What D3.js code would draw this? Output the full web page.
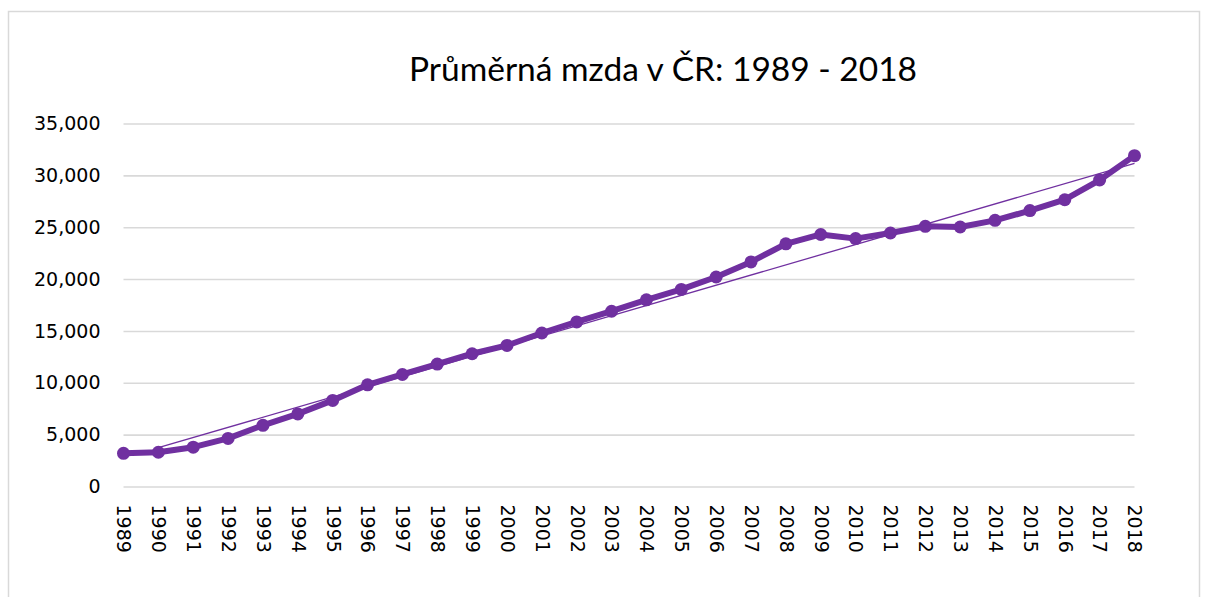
<!DOCTYPE html>
<html>
<head>
<meta charset="utf-8">
<script src="https://cdn.jsdelivr.net/npm/d3@7"></script>
<style>
	body { margin: 0; background: #fff; }
	#chart-area { width: 1208px; height: 597px; }
</style>
</head>
<body>
<div id="chart-area"></div>
<script>
const years = [1989, 1990, 1991, 1992, 1993, 1994, 1995, 1996, 1997, 1998,
	1999, 2000, 2001, 2002, 2003, 2004, 2005, 2006, 2007, 2008,
	2009, 2010, 2011, 2012, 2013, 2014, 2015, 2016, 2017, 2018];
const wages = [3200, 3300, 3790, 4640, 5900, 7000, 8300, 9800, 10800, 11800,
	12800, 13600, 14800, 15870, 16900, 18000, 19000, 20200, 21650, 23400,
	24300, 23900, 24440, 25090, 25020, 25660, 26600, 27650, 29550, 31900];
const yTicks = [0, 5000, 10000, 15000, 20000, 25000, 30000, 35000];
const titleText = 'Průměrná mzda v ČR: 1989 - 2018';

window.addEventListener('DOMContentLoaded', () => {

	const margin = { top: 123.5, right: 73.5, bottom: 110.5, left: 123.5 };
	const fullWidth = 1208;
	const fullHeight = 597;
	const width = fullWidth - margin.left - margin.right;
	const height = fullHeight - margin.top - margin.bottom;
	const purple = '#7030a0';

	const svg = d3.select('#chart-area')
		.append('svg')
		.attr('width', fullWidth)
		.attr('height', fullHeight);

	// chart frame
	svg.append('rect')
		.attr('x', 8.5)
		.attr('y', 11.5)
		.attr('width', 1191)
		.attr('height', 600)
		.attr('fill', 'none')
		.attr('stroke', '#d9d9d9')
		.attr('stroke-width', 1.5);

	svg.append('text')
		.attr('x', 663)
		.attr('y', 81)
		.attr('text-anchor', 'middle')
		.attr('font-family', 'Lato, "Open Sans", sans-serif')
		.attr('font-size', 33.5)
		.attr('fill', '#000')
		.text(titleText);

	const g = svg.append('g')
		.attr('transform', `translate(${margin.left}, ${margin.top})`);

	// Scales
	const x = d3.scalePoint()
		.domain(years)
		.range([0, width]);

	const y = d3.scaleLinear()
		.domain([0, 35000])
		.range([height, 0]);

	// Y axis with gridlines
	const leftAxis = d3.axisLeft(y)
		.tickValues(yTicks)
		.tickSize(-width)
		.tickPadding(23)
		.tickFormat(d3.format(','));
	const yAxis = g.append('g')
		.attr('class', 'axis-left')
		.call(leftAxis);
	yAxis.select('.domain').remove();
	yAxis.selectAll('.tick line')
		.attr('stroke', '#d9d9d9')
		.attr('stroke-width', 1.6);
	yAxis.selectAll('.tick text')
		.attr('font-family', '"DejaVu Sans", sans-serif')
		.attr('font-size', 19)
		.attr('fill', '#000');

	// X axis, rotated labels
	const bottomAxis = d3.axisBottom(x)
		.tickSize(0)
		.tickPadding(0);
	const xAxis = g.append('g')
		.attr('class', 'axis-bottom')
		.attr('transform', `translate(0, ${height})`)
		.call(bottomAxis);
	xAxis.select('.domain').remove();
	xAxis.selectAll('.tick text')
		.attr('font-family', '"DejaVu Sans", sans-serif')
		.attr('font-size', 19)
		.attr('fill', '#000')
		.attr('text-anchor', 'start')
		.attr('transform', 'rotate(90)')
		.attr('x', 18)
		.attr('y', 0)
		.attr('dy', '0.35em');

	const points = years.map((yr, i) => ({ year: yr, value: wages[i] }));

	// linear trend (least squares over the series)
	const n = wages.length;
	const meanI = d3.mean(wages, (d, i) => i);
	const meanV = d3.mean(wages);
	const slope = d3.sum(wages, (d, i) => (i - meanI) * (d - meanV)) /
		d3.sum(wages, (d, i) => (i - meanI) * (i - meanI));
	const trend = [1, n - 1].map(i => ({ year: years[i], value: meanV + slope * (i - meanI) }));

	const line = d3.line()
		.x(d => x(d.year))
		.y(d => y(d.value));

	g.append('path')
		.datum(points)
		.attr('fill', 'none')
		.attr('stroke', purple)
		.attr('stroke-width', 6)
		.attr('stroke-linejoin', 'round')
		.attr('d', line);

	g.selectAll('circle')
		.data(points)
		.enter()
		.append('circle')
		.attr('cx', d => x(d.year))
		.attr('cy', d => y(d.value))
		.attr('r', 6.5)
		.attr('fill', purple);

	g.append('path')
		.datum(trend)
		.attr('fill', 'none')
		.attr('stroke', purple)
		.attr('stroke-width', 1.3)
		.attr('d', line);

});
</script>
</body>
</html>
